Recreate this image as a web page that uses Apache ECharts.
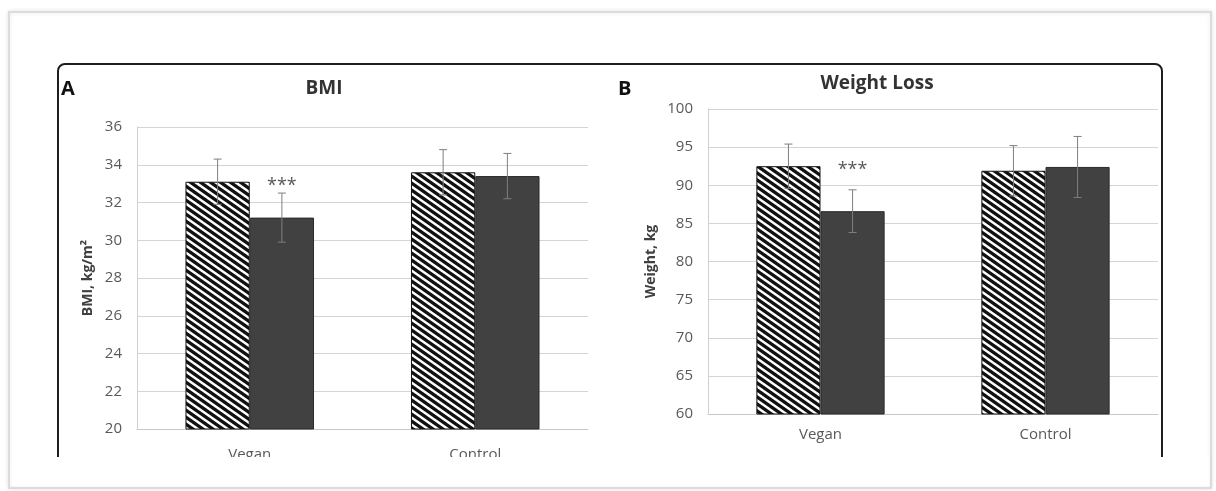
<!DOCTYPE html>
<html>
<head>
<meta charset="utf-8">
<script src="https://cdn.jsdelivr.net/npm/echarts@6/dist/echarts.min.js"></script>
<style>
html,body{margin:0;padding:0;background:#fff;}
#chart{width:1216px;height:491px;}
</style>
</head>
<body>
<div id="chart"></div>
<script>
// ---- data ----
const categories = ['Vegan', 'Control'];
const bmiBaseline = [33.1, 33.6];
const bmiBaselineSD = [1.2, 1.2];
const bmiWeek16 = [31.2, 33.4];
const bmiWeek16SD = [1.3, 1.2];
const bmiSigCat = [0];               // categories whose week-16 bar is marked ***
const weightBaseline = [92.5, 91.9];
const weightBaselineSD = [2.9, 3.3];
const weightWeek16 = [86.6, 92.4];
const weightWeek16SD = [2.8, 4.0];
const weightSigCat = [0];
const bmiTicks = {min: 20, max: 36, interval: 2};
const weightTicks = {min: 60, max: 100, interval: 5};

// ---- hatch pattern ----
function makeHatch() {
  const w = 10, h = 7;
  const c = document.createElement('canvas');
  c.width = w; c.height = h;
  const ctx = c.getContext('2d');
  ctx.fillStyle = '#ffffff';
  ctx.fillRect(0, 0, w, h);
  ctx.strokeStyle = '#111111';
  ctx.lineWidth = 3.3;
  for (let k = -2; k <= 2; k++) {
    ctx.beginPath();
    ctx.moveTo(-w, -h + k * h);
    ctx.lineTo(2 * w, 2 * h + k * h);
    ctx.stroke();
  }
  return c;
}
const hatch = {image: makeHatch(), repeat: 'repeat'};

const FONT = '"Open Sans", Lato, sans-serif';
const CAT_GAP = 0.43;

function errData(base, baseSD, wk, wkSD, sigCats) {
  const out = [];
  for (let i = 0; i < categories.length; i++) {
    out.push([i, base[i] - baseSD[i], base[i] + baseSD[i], 0, '', base[i]]);
    out.push([i, wk[i] - wkSD[i], wk[i] + wkSD[i], 1, sigCats.indexOf(i) >= 0 ? '***' : '', base[i]]);
  }
  return out;
}

function renderErr(params, api) {
  const cat = api.value(0), lo = api.value(1), hi = api.value(2), s = api.value(3);
  const sig = api.value(4), ref = api.value(5);
  const band = api.size([1, 0])[0];
  const bw = band * (1 - CAT_GAP) / 2;
  const pLo = api.coord([cat, lo]);
  const pHi = api.coord([cat, hi]);
  const x = pLo[0] + (s === 0 ? -bw / 2 : bw / 2);
  const cap = 4;
  const st = {stroke: '#7f7f7f', lineWidth: 1};
  const children = [
    {type: 'line', shape: {x1: x, y1: pLo[1], x2: x, y2: pHi[1]}, style: st},
    {type: 'line', shape: {x1: x - cap, y1: pHi[1], x2: x + cap, y2: pHi[1]}, style: st},
    {type: 'line', shape: {x1: x - cap, y1: pLo[1], x2: x + cap, y2: pLo[1]}, style: st}
  ];
  if (sig) {
    const pr = api.coord([cat, ref]);
    children.push({type: 'text', style: {text: sig, x: x, y: pr[1] + 4, align: 'center', verticalAlign: 'middle',
      textAlign: 'center', textVerticalAlign: 'middle', fill: '#595959', font: '18px ' + FONT}});
  }
  return {type: 'group', children: children};
}

function xAxisOf(gi, margin) {
  return {
    type: 'category', gridIndex: gi, data: categories,
    axisLine: {lineStyle: {color: '#c8c8c8', width: 1}},
    axisTick: {show: false},
    axisLabel: {color: '#595959', fontSize: 15, fontFamily: FONT, margin: margin}
  };
}
function yAxisOf(gi, t, name, gap) {
  return {
    type: 'value', gridIndex: gi, min: t.min, max: t.max, interval: t.interval,
    name: name, nameLocation: 'middle', nameGap: gap, nameRotate: 90,
    nameTextStyle: {color: '#404040', fontSize: 14, fontWeight: 'bold', fontFamily: FONT},
    axisLine: {show: true, lineStyle: {color: '#d0d0d0', width: 1}},
    axisTick: {show: false},
    splitLine: {lineStyle: {color: '#d4d4d4', width: 1}},
    axisLabel: {color: '#595959', fontSize: 15, fontFamily: FONT, margin: 15}
  };
}
function bars(gi, base, wk) {
  return [
    {type: 'bar', name: 'Baseline', xAxisIndex: gi, yAxisIndex: gi, data: base,
     barGap: '0%', barCategoryGap: (CAT_GAP * 100) + '%',
     itemStyle: {color: hatch, borderColor: '#111', borderWidth: 1}, silent: true},
    {type: 'bar', name: 'Week 16', xAxisIndex: gi, yAxisIndex: gi, data: wk,
     barGap: '0%', barCategoryGap: (CAT_GAP * 100) + '%',
     itemStyle: {color: '#414141', borderColor: '#2b2b2b', borderWidth: 1}, silent: true}
  ];
}

const chart = echarts.init(document.getElementById('chart'), null, {renderer: 'canvas'});
chart.setOption({
  animation: false,
  backgroundColor: '#ffffff',
  grid: [
    {left: 137, right: 628, top: 127, bottom: 62},
    {left: 708, right: 58, top: 109, bottom: 77}
  ],
  xAxis: [xAxisOf(0, 18), xAxisOf(1, 13)],
  yAxis: [yAxisOf(0, bmiTicks, 'BMI, kg/m²', 42), yAxisOf(1, weightTicks, 'Weight, kg', 50)],
  series: [
    ...bars(0, bmiBaseline, bmiWeek16),
    ...bars(1, weightBaseline, weightWeek16),
    {type: 'custom', xAxisIndex: 0, yAxisIndex: 0, renderItem: renderErr, z: 5,
     data: errData(bmiBaseline, bmiBaselineSD, bmiWeek16, bmiWeek16SD, bmiSigCat)},
    {type: 'custom', xAxisIndex: 1, yAxisIndex: 1, renderItem: renderErr, z: 5,
     data: errData(weightBaseline, weightBaselineSD, weightWeek16, weightWeek16SD, weightSigCat)}
  ],
  graphic: [
    {type: 'rect', z: -10, shape: {x: 9, y: 12, width: 1202, height: 476},
     style: {fill: '#ffffff', stroke: '#dcdcdc', lineWidth: 2, shadowBlur: 4, shadowColor: 'rgba(0,0,0,0.10)'}},
    {type: 'rect', z: 50, shape: {x: 58, y: 64, width: 1104, height: 420, r: 7},
     style: {fill: 'none', stroke: '#1e1e1e', lineWidth: 2}},
    {type: 'rect', z: 100, shape: {x: 12, y: 457, width: 1197, height: 29},
     style: {fill: '#ffffff'}},
    {type: 'text', z: 60, style: {text: 'A', x: 61, y: 89, verticalAlign: 'middle', fill: '#111', font: 'bold 20px ' + FONT}},
    {type: 'text', z: 60, style: {text: 'B', x: 618, y: 89, verticalAlign: 'middle', fill: '#111', font: 'bold 20px ' + FONT}},
    {type: 'text', z: 60, style: {text: 'BMI', x: 324, y: 89, align: 'center', verticalAlign: 'middle', fill: '#333', font: 'bold 19px ' + FONT}},
    {type: 'text', z: 60, style: {text: 'Weight Loss', x: 877, y: 84, align: 'center', verticalAlign: 'middle', fill: '#333', font: 'bold 19px ' + FONT}}
  ]
});
</script>
</body>
</html>
